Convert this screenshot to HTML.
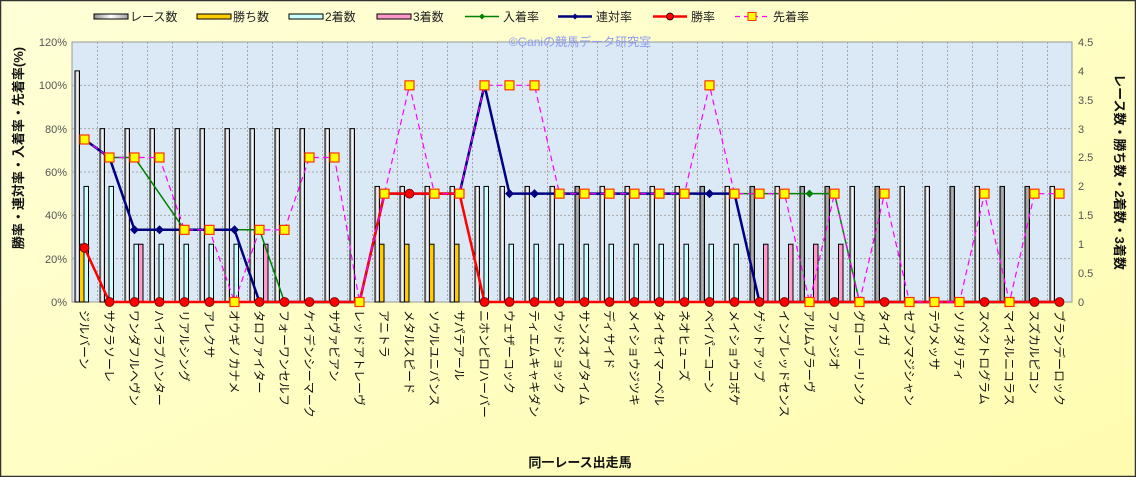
<!DOCTYPE html>
<html><head><meta charset="utf-8"><style>
html,body{margin:0;padding:0;background:#ffffc0}
svg{display:block}
text{font-family:"Liberation Sans","Noto Sans CJK JP",sans-serif}
</style></head><body>
<svg id="s" width="1136" height="477" xmlns="http://www.w3.org/2000/svg">
<defs>
<linearGradient id="bg" x1="0" y1="0" x2="1" y2="1"><stop offset="0" stop-color="#ffffd8"/><stop offset="1" stop-color="#fffcb0"/></linearGradient>
<linearGradient id="rb" x1="0" x2="1"><stop offset="0" stop-color="#909090"/><stop offset="0.5" stop-color="#ffffff"/><stop offset="1" stop-color="#a0a0a0"/></linearGradient>
<linearGradient id="rg" x1="0" x2="1"><stop offset="0" stop-color="#707070"/><stop offset="0.5" stop-color="#b8b8b8"/><stop offset="1" stop-color="#707070"/></linearGradient>
</defs>
<rect x="0" y="0" width="1136" height="477" fill="url(#bg)"/>
<rect x="0.5" y="0.5" width="1135" height="476" fill="none" stroke="#333" stroke-width="1.5"/>
<rect x="72" y="42" width="1000" height="260" fill="#dbe9f7" stroke="#999"/>
<g id="grid" stroke="#a8a8a8" stroke-dasharray="2,2" stroke-width="1"></g>
<g id="bars"></g>
<g id="lines"></g>
<text x="580" y="46" font-size="12" fill="#8c9cf0" text-anchor="middle">©Ganiの競馬データ研究室</text>
<!-- legend -->
<g font-size="12" fill="#222">
<rect x="94" y="14" width="34" height="5" fill="url(#rb)" stroke="#000"/><text x="130" y="21">レース数</text>
<rect x="197" y="14" width="34" height="5" fill="#ffcc00" stroke="#000"/><text x="233" y="21">勝ち数</text>
<rect x="289" y="14" width="34" height="5" fill="#ccffff" stroke="#000"/><text x="325" y="21">2着数</text>
<rect x="377" y="14" width="34" height="5" fill="#ff99cc" stroke="#000"/><text x="413" y="21">3着数</text>
<line x1="465" y1="16.5" x2="499" y2="16.5" stroke="#008000" stroke-width="1.5"/><path d="M482 13.5 L485 16.5 L482 19.5 L479 16.5Z" fill="#008000"/><text x="503" y="21">入着率</text>
<line x1="558" y1="16.5" x2="592" y2="16.5" stroke="#000080" stroke-width="2.5"/><path d="M575 13.5 L578 16.5 L575 19.5 L572 16.5Z" fill="#000080"/><text x="596" y="21">連対率</text>
<line x1="653" y1="16.5" x2="687" y2="16.5" stroke="#ff0000" stroke-width="2.5"/><circle cx="670" cy="16.5" r="3.5" fill="#ff0000" stroke="#000" stroke-width="0.8"/><text x="691" y="21">勝率</text>
<line x1="735" y1="16.5" x2="769" y2="16.5" stroke="#ff00ff" stroke-width="1.2" stroke-dasharray="5,4"/><rect x="748" y="12.5" width="8" height="8" fill="#ffff00" stroke="#ff3300"/><text x="773" y="21">先着率</text>
</g>
<!-- left ticks -->
<g font-size="11" fill="#555" text-anchor="end">
<text x="67" y="306">0%</text><text x="67" y="263">20%</text><text x="67" y="219">40%</text><text x="67" y="176">60%</text><text x="67" y="133">80%</text><text x="67" y="89">100%</text><text x="67" y="46">120%</text>
</g>
<g font-size="11" fill="#555">
<text x="1078" y="306">0</text><text x="1078" y="277">0.5</text><text x="1078" y="248">1</text><text x="1078" y="219">1.5</text><text x="1078" y="190">2</text><text x="1078" y="161">2.5</text><text x="1078" y="133">3</text><text x="1078" y="104">3.5</text><text x="1078" y="75">4</text><text x="1078" y="46">4.5</text>
</g>
<text transform="translate(23,148) rotate(-90)" font-size="13" font-weight="bold" text-anchor="middle" fill="#111">勝率・連対率・入着率・先着率(%)</text>
<text transform="translate(1115,172) rotate(90)" font-size="13" font-weight="bold" text-anchor="middle" fill="#111">レース数・勝ち数・2着数・3着数</text>
<text x="580" y="467" font-size="13" font-weight="bold" text-anchor="middle" fill="#111">同一レース出走馬</text>
<g font-size="12" fill="#111">
<text transform="translate(80,310) rotate(90)">ジルバーン</text>
<text transform="translate(105,310) rotate(90)">サクラソーレ</text>
<text transform="translate(130,310) rotate(90)">ワンダフルヘヴン</text>
<text transform="translate(155,310) rotate(90)">ハイラブハンター</text>
<text transform="translate(180,310) rotate(90)">リアルシング</text>
<text transform="translate(205,310) rotate(90)">アレクサ</text>
<text transform="translate(230,310) rotate(90)">オウギノカナメ</text>
<text transform="translate(255,310) rotate(90)">タロファイター</text>
<text transform="translate(280,310) rotate(90)">フォーワンセルフ</text>
<text transform="translate(305,310) rotate(90)">ケイデンシーマーク</text>
<text transform="translate(330,310) rotate(90)">サヴァビアン</text>
<text transform="translate(355,310) rotate(90)">レッドアトレーヴ</text>
<text transform="translate(380,310) rotate(90)">アニトラ</text>
<text transform="translate(405,310) rotate(90)">メタルスピード</text>
<text transform="translate(430,310) rotate(90)">ソウルユニバンス</text>
<text transform="translate(455,310) rotate(90)">サパテアール</text>
<text transform="translate(480,310) rotate(90)">ニホンピロハーバー</text>
<text transform="translate(505,310) rotate(90)">ウェザーコック</text>
<text transform="translate(530,310) rotate(90)">ティエムキャキダン</text>
<text transform="translate(555,310) rotate(90)">ウッドショック</text>
<text transform="translate(580,310) rotate(90)">サンスオブタイム</text>
<text transform="translate(605,310) rotate(90)">ディサイド</text>
<text transform="translate(630,310) rotate(90)">メイショウジツキ</text>
<text transform="translate(655,310) rotate(90)">タイセイマーベル</text>
<text transform="translate(680,310) rotate(90)">ネオヒューズ</text>
<text transform="translate(705,310) rotate(90)">ベイパーコーン</text>
<text transform="translate(730,310) rotate(90)">メイショウコボケ</text>
<text transform="translate(755,310) rotate(90)">ゲットアップ</text>
<text transform="translate(780,310) rotate(90)">インブレッドセンス</text>
<text transform="translate(805,310) rotate(90)">アルムブラーヴ</text>
<text transform="translate(830,310) rotate(90)">ファンジオ</text>
<text transform="translate(855,310) rotate(90)">グローリーリンク</text>
<text transform="translate(880,310) rotate(90)">タイガ</text>
<text transform="translate(905,310) rotate(90)">セブンマジシャン</text>
<text transform="translate(930,310) rotate(90)">テウメッサ</text>
<text transform="translate(955,310) rotate(90)">ソリダリティ</text>
<text transform="translate(980,310) rotate(90)">スペクトログラム</text>
<text transform="translate(1005,310) rotate(90)">マイネルニコラス</text>
<text transform="translate(1030,310) rotate(90)">スズカルピコン</text>
<text transform="translate(1055,310) rotate(90)">ブランデーロック</text>
</g>
</svg>
<script>
(function(){
var NS="http://www.w3.org/2000/svg";
function el(p,t,a){var e=document.createElementNS(NS,t);for(var k in a)e.setAttribute(k,a[k]);p.appendChild(e);return e;}
var g=document.getElementById('grid'),b=document.getElementById('bars'),L=document.getElementById('lines');
for(var i=1;i<40;i++){var x=72+25*i+0.5;el(g,'line',{x1:x,y1:42,x2:x,y2:302});}
for(var j=1;j<6;j++){var y=302-j*43.33;el(g,'line',{x1:72,y1:y,x2:1072,y2:y});}
var race=[],win=[],sec=[],thr=[];
for(i=0;i<40;i++){race.push(i==0?4:(i<12?3:2));win.push(0);sec.push(0);thr.push(0);}
win[0]=1;win[12]=win[13]=win[14]=win[15]=1;
sec[0]=2;sec[1]=2;for(i=2;i<=6;i++)sec[i]=1;sec[16]=2;for(i=17;i<=26;i++)sec[i]=1;
thr[2]=1;thr[7]=1;for(i=27;i<=30;i++)thr[i]=1;
var grey=[20,25,27,29,30,32,35,37,38];
function cy(c){return 302-c*57.78;}
for(i=0;i<40;i++){var Lx=72+25*i;
 el(b,'rect',{x:Lx+3,y:cy(race[i]),width:4.5,height:302-cy(race[i]),fill:grey.indexOf(i)>=0?'url(#rg)':'url(#rb)',stroke:'#000','stroke-width':1});
 if(win[i])el(b,'rect',{x:Lx+7.5,y:cy(win[i]),width:4.5,height:302-cy(win[i]),fill:'#ffcc00',stroke:'#000','stroke-width':1});
 if(sec[i])el(b,'rect',{x:Lx+12,y:cy(sec[i]),width:4.5,height:302-cy(sec[i]),fill:'#ccffff',stroke:'#000','stroke-width':1});
 if(thr[i])el(b,'rect',{x:Lx+16.5,y:cy(thr[i]),width:4.5,height:302-cy(thr[i]),fill:'#ff99cc',stroke:'#000','stroke-width':1});
}
var w=[],r=[],f=[],s=[];
for(i=0;i<40;i++){w.push(100*win[i]/race[i]);r.push(100*(win[i]+sec[i])/race[i]);f.push(100*(win[i]+sec[i]+thr[i])/race[i]);}
s=[75,66.7,66.7,66.7,33.3,33.3,0,33.3,33.3,66.7,66.7,0,50,100,50,50,100,100,100,50,50,50,50,50,50,100,50,50,50,0,50,0,50,0,0,0,50,0,50,50];
function px(i){return 84.5+25*i;}function py(p){return 302-p*2.1667;}
function poly(arr,col,wd,dash,skip){var pts=[];for(var i=0;i<40;i++){if(skip&&skip.indexOf(i)>=0)continue;pts.push(px(i)+','+py(arr[i]));}
 var a={points:pts.join(' '),fill:'none',stroke:col,'stroke-width':wd};if(dash)a['stroke-dasharray']=dash;el(L,'polyline',a);}
poly(f,'#008000',1.5,null,[3]);
for(i=0;i<40;i++){if(i==3)continue;var X=px(i),Y=py(f[i]);el(L,'path',{d:'M'+X+' '+(Y-4)+'L'+(X+4)+' '+Y+'L'+X+' '+(Y+4)+'L'+(X-4)+' '+Y+'Z',fill:'#008000'});}
poly(r,'#000080',2.5);
for(i=0;i<40;i++){var X=px(i),Y=py(r[i]);el(L,'path',{d:'M'+X+' '+(Y-4.5)+'L'+(X+4.5)+' '+Y+'L'+X+' '+(Y+4.5)+'L'+(X-4.5)+' '+Y+'Z',fill:'#000080'});}
poly(w,'#ff0000',2.5);
for(i=0;i<40;i++){el(L,'circle',{cx:px(i),cy:py(w[i]),r:4.5,fill:'#ff0000',stroke:'#600','stroke-width':0.8});}
poly(s,'#ff00ff',1.2,'6,4');
for(i=0;i<40;i++){el(L,'rect',{x:px(i)-4.5,y:py(s[i])-4.5,width:9,height:9,fill:'#ffff00',stroke:'#ff3300','stroke-width':1.2});}
})();
</script>
</body></html>
